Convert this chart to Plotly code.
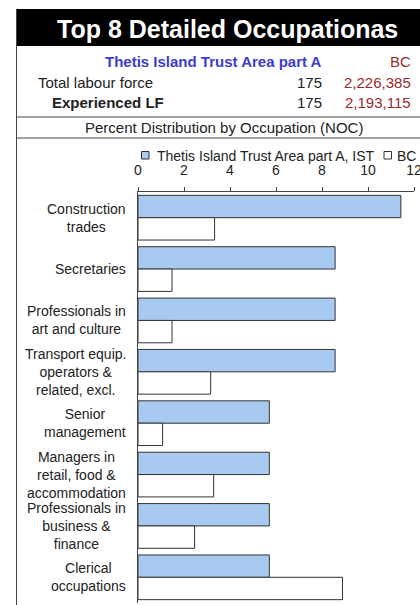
import plotly.graph_objects as go

# ---- data ----
categories = [
    "Construction<br>trades",
    "Secretaries",
    "Professionals in<br>art and culture",
    "Transport equip.<br>operators &<br>related, excl.",
    "Senior<br>management",
    "Managers in<br>retail, food &<br>accommodation",
    "Professionals in<br>business &<br>finance",
    "Clerical<br>occupations",
]
ist_values = [11.43, 8.57, 8.57, 8.57, 5.71, 5.71, 5.71, 5.71]
bc_values = [3.33, 1.48, 1.48, 3.16, 1.07, 3.29, 2.46, 8.89]
series_names = ["Thetis Island Trust Area part A, IST", "BC"]
series_colors = ["#a8caf0", "#ffffff"]
x_ticks = [0, 2, 4, 6, 8, 10, 12]

title_text = "Top 8 Detailed Occupationas"
area_name = "Thetis Island Trust Area part A"
region_name = "BC"
row_labels = ["Total labour force", "Experienced LF"]
area_counts = ["175", "175"]
region_counts = ["2,226,385", "2,193,115"]
subtitle = "Percent Distribution by Occupation (NOC)"

# ---- geometry ----
W, H = 420, 605
L, R, T, B = 138, 6, 192, 2
PW = W - L - R
PH = H - T - B


def xp(px):
    return (px - L) / PW


def yp(py):
    return (H - B - py) / PH


FONT = "Liberation Sans, Arial, sans-serif"
DARK = "#222222"
BLUE = "#3b3bcc"
RED = "#9a2a2a"
EDGE = "#333333"

fig = go.Figure()
for name, vals, col in zip(series_names, [ist_values, bc_values], series_colors):
    fig.add_trace(go.Bar(
        y=categories, x=vals, orientation="h", name=name,
        marker=dict(color=col, line=dict(color=EDGE, width=1)),
    ))

annotations = []
shapes = []

# category labels (centered multi-line, block right-aligned)
for c in categories:
    annotations.append(dict(
        x=xp(128), xref="paper", y=c, yref="y", text=c, showarrow=False,
        xanchor="right", yanchor="middle", align="center",
        font=dict(size=14, color=DARK, family=FONT),
    ))

# legend (drawn manually so both entries fit like the original)
legend_pos = [(141.5, 155), (384, 395)]
for (sx, tx), name, col in zip(legend_pos, series_names, series_colors):
    shapes.append(dict(type="rect", xref="paper", yref="paper",
                       x0=xp(sx), x1=xp(sx + 7.5), y0=yp(159), y1=yp(151.5),
                       fillcolor=col, line=dict(color=EDGE, width=1)))
    annotations.append(dict(x=xp(tx), y=yp(155.5), xref="paper", yref="paper",
                            text=name, showarrow=False, xanchor="left", yanchor="middle",
                            font=dict(size=14, color=DARK, family=FONT)))

# title band
shapes.append(dict(type="rect", xref="paper", yref="paper",
                   x0=xp(16), x1=xp(425), y0=yp(46), y1=yp(9),
                   fillcolor="black", line=dict(width=0), layer="above"))
annotations.append(dict(
    x=xp(227), y=yp(28.5), xref="paper", yref="paper", text="<b>%s</b>" % title_text,
    showarrow=False, xanchor="center", yanchor="middle",
    font=dict(size=25, color="white", family=FONT),
))

# header rows
annotations.append(dict(x=xp(324), y=yp(61), xref="paper", yref="paper",
                        text="<b>%s</b>" % area_name, showarrow=False,
                        xanchor="right", yanchor="middle",
                        font=dict(size=15, color=BLUE, family=FONT)))
annotations.append(dict(x=xp(413), y=yp(61), xref="paper", yref="paper",
                        text=region_name, showarrow=False,
                        xanchor="right", yanchor="middle",
                        font=dict(size=15, color=RED, family=FONT)))
row_y = [82, 102]
row_x = [36, 50]
for i, lab in enumerate(row_labels):
    txt = lab if i == 0 else "<b>%s</b>" % lab
    annotations.append(dict(x=xp(row_x[i]), y=yp(row_y[i]), xref="paper", yref="paper",
                            text=txt, showarrow=False, xanchor="left", yanchor="middle",
                            font=dict(size=15, color=DARK, family=FONT)))
    annotations.append(dict(x=xp(324), y=yp(row_y[i]), xref="paper", yref="paper",
                            text=area_counts[i], showarrow=False, xanchor="right",
                            yanchor="middle", font=dict(size=15, color=DARK, family=FONT)))
    annotations.append(dict(x=xp(413), y=yp(row_y[i]), xref="paper", yref="paper",
                            text=region_counts[i], showarrow=False, xanchor="right",
                            yanchor="middle", font=dict(size=15, color=RED, family=FONT)))

annotations.append(dict(x=xp(224), y=yp(128), xref="paper", yref="paper",
                        text=subtitle, showarrow=False, xanchor="center", yanchor="middle",
                        font=dict(size=15, color=DARK, family=FONT)))

# frame lines
for yy in (117, 138):
    shapes.append(dict(type="line", xref="paper", yref="paper",
                       x0=xp(16), x1=xp(425), y0=yp(yy), y1=yp(yy),
                       line=dict(color="#444444", width=1)))
shapes.append(dict(type="line", xref="paper", yref="paper",
                   x0=xp(16.5), x1=xp(16.5), y0=yp(9), y1=yp(610),
                   line=dict(color="#444444", width=1)))

fig.update_layout(
    width=W, height=H,
    margin=dict(l=L, r=R, t=T, b=B, autoexpand=False),
    paper_bgcolor="white", plot_bgcolor="white",
    barmode="group", bargap=0.13, bargroupgap=0,
    font=dict(family=FONT, color=DARK, size=14),
    showlegend=False,
    xaxis=dict(side="top", range=[0, 12], tickvals=x_ticks, ticks="outside", ticklen=4,
               tickcolor="#444444", showline=True, linecolor="#444444", linewidth=1,
               showgrid=False, zeroline=False, ticklabelstandoff=6,
               ticklabeloverflow="allow",
               tickfont=dict(size=14, color=DARK, family=FONT), fixedrange=True),
    yaxis=dict(range=[7.5, -0.5], showticklabels=False, ticks="", showline=True,
               linecolor="#444444", linewidth=1, showgrid=False, zeroline=False,
               fixedrange=True),
    annotations=annotations,
    shapes=shapes,
)

fig.write_html("out.html", config={"displayModeBar": False},
               post_script="document.body.style.margin='0';")
